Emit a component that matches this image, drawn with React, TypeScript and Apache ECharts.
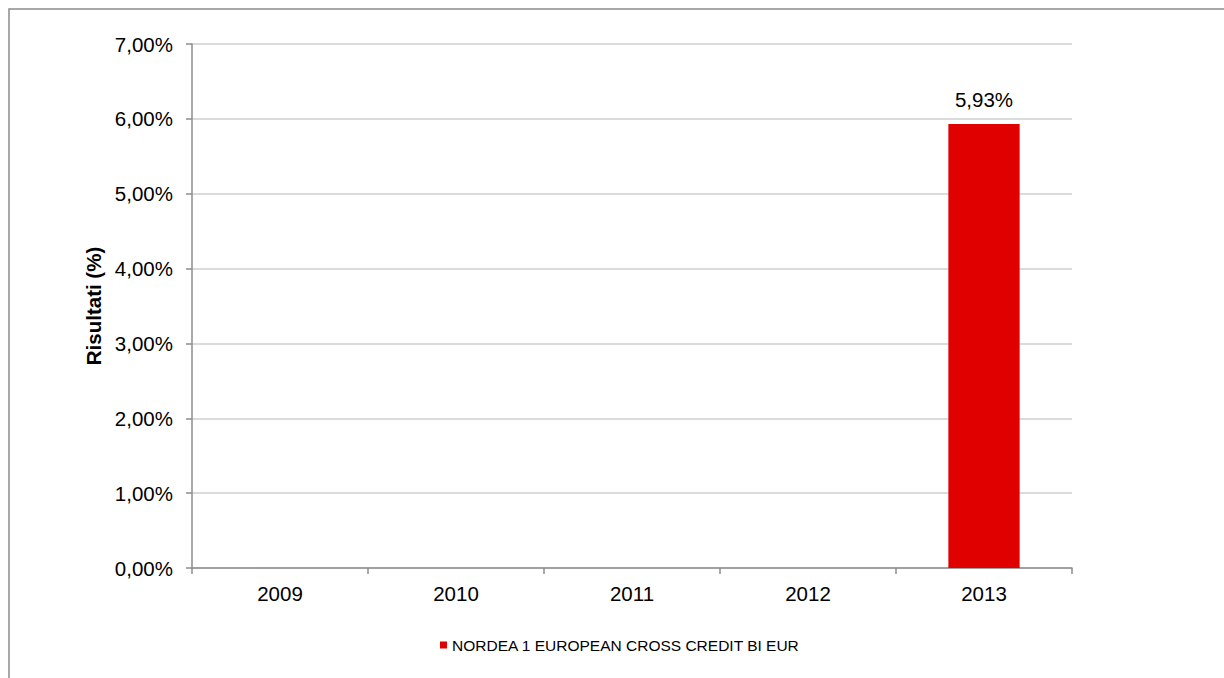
import React, { useEffect, useRef } from "react";
import * as echarts from "echarts";

const categories = ["2009", "2010", "2011", "2012", "2013"];
const seriesName = "NORDEA 1 EUROPEAN CROSS CREDIT BI EUR";
const values: (number | null)[] = [null, null, null, null, 5.93];
const yMin = 0;
const yMax = 7;
const yInterval = 1;

const fmt = (v: number) => v.toFixed(2).replace(".", ",") + "%";

export default function App() {
  const ref = useRef<HTMLDivElement>(null);
  useEffect(() => {
    if (!ref.current) return;
    const chart = echarts.init(ref.current, undefined, { renderer: "svg" });
    const font = "'Liberation Sans', Arial, sans-serif";
    chart.setOption({
      animation: false,
      backgroundColor: "#ffffff",
      textStyle: { fontFamily: font },
      graphic: [
        {
          type: "rect",
          shape: { x: 9, y: 9, width: 1400, height: 900 },
          style: { fill: "none", stroke: "#8c8c8c", lineWidth: 1.5 },
          silent: true,
        },
      ],
      grid: { left: 192, top: 44, right: 152, bottom: 110 },
      legend: {
        left: 440,
        top: 637,
        padding: 0,
        itemWidth: 7,
        itemHeight: 7,
        itemGap: 5,
        icon: "rect",
        textStyle: { fontFamily: font, fontSize: 15.5, color: "#000" },
        data: [seriesName],
      },
      xAxis: {
        type: "category",
        data: categories,
        axisLine: { lineStyle: { color: "#8c8c8c", width: 1.5 } },
        axisTick: { show: true, length: 6, alignWithLabel: false, lineStyle: { color: "#8c8c8c", width: 1.5 } },
        axisLabel: { fontFamily: font, fontSize: 20.5, color: "#000", margin: 15 },
        splitLine: { show: false },
      },
      yAxis: {
        type: "value",
        min: yMin,
        max: yMax,
        interval: yInterval,
        name: "Risultati (%)",
        nameLocation: "middle",
        nameGap: 86,
        nameTextStyle: { fontFamily: font, fontSize: 20.5, fontWeight: "bold", color: "#000" },
        axisLine: { show: true, lineStyle: { color: "#8c8c8c", width: 1.5 } },
        axisTick: { show: true, length: 6, lineStyle: { color: "#8c8c8c", width: 1.5 } },
        axisLabel: { fontFamily: font, fontSize: 20.5, color: "#000", margin: 19, formatter: fmt },
        splitLine: { show: true, lineStyle: { color: "#cfcfcf", width: 1.5 } },
      },
      series: [
        {
          name: seriesName,
          type: "bar",
          data: values,
          barWidth: "40.5%",
          itemStyle: { color: "#e00000" },
          label: {
            show: true,
            position: "top",
            distance: 14,
            fontFamily: font,
            fontSize: 20.5,
            color: "#000",
            formatter: (p: any) => fmt(p.value),
          },
        },
      ],
    });
    return () => chart.dispose();
  }, []);
  return (
    <div
      ref={ref}
      style={{ position: "absolute", left: 0, top: 0, width: 1224, height: 678 }}
    />
  );
}
